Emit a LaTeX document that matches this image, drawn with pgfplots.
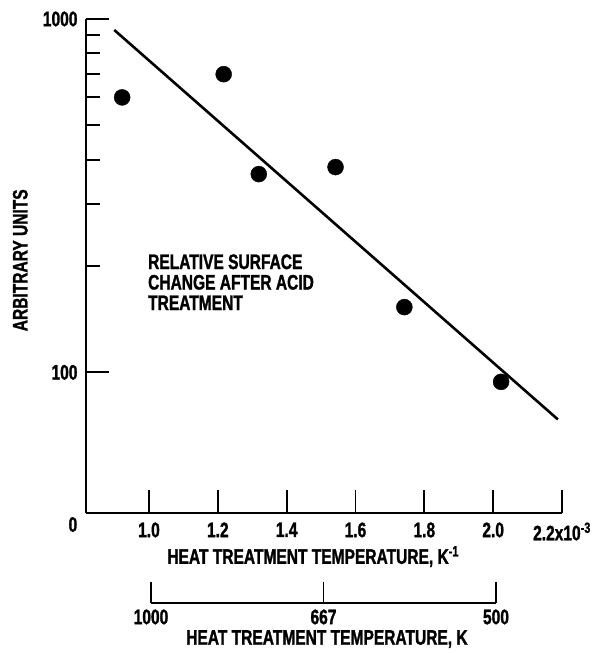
\documentclass[border=0pt]{standalone}
\usepackage{fontspec}
\setmainfont{Liberation Sans}[FakeStretch=0.74, BoldFeatures={FakeBold=1.3}]
\usepackage{pgfplots}
\pgfplotsset{compat=1.18}
\newcommand{\lab}{\fontsize{21}{20.5}\selectfont\bfseries}
\begin{document}
\begin{tikzpicture}[font=\lab]
\begin{axis}[
  scale only axis, width=476pt, height=494pt,
  at={(0,0)}, anchor=south west,
  ymode=log, xmin=0.817, xmax=2.2, ymin=40, ymax=1000,
  axis x line=bottom, axis y line=left,
  axis line style={-, line width=1.8pt},
  xtick={1.0,1.2,1.4,1.6,1.8,2.0,2.2},
  xticklabels={1.0,1.2,1.4,1.6,1.8,2.0,{2.2x10\textsuperscript{-3}}},
  ytick={100,1000}, yticklabels={100,1000},
  tick align=inside, major tick length=23pt, minor tick length=14pt,
  every tick/.style={line width=1.8pt, black},
  /pgf/number format/assume math mode=true,
  ticklabel style={font=\lab},
  xticklabel style={yshift=-6pt},
  yticklabel style={xshift=-5pt},
  clip=false,
]
\addplot[only marks, mark=*, mark size=8pt, black] coordinates {
  (0.922,600) (1.217,698) (1.319,364) (1.542,381) (1.742,153) (2.023,94)};
\addplot[black, line width=2.6pt, no marks] coordinates {(0.899,931) (2.188,73.6)};
\node[anchor=north west, align=left, inner sep=0pt, font=\lab] at (axis cs:0.997,216)
  {RELATIVE SURFACE\\CHANGE AFTER ACID\\TREATMENT};
\node[font=\lab] at (axis cs:0.779,37.1) {0};
\node[rotate=90, font=\lab] at (axis cs:0.626,207.6) {ARBITRARY UNITS};
\node[anchor=north, inner sep=0pt, font=\lab] at (axis cs:1.477,40) [yshift=-33pt]
  {HEAT TREATMENT TEMPERATURE, K\textsuperscript{-1}};
\end{axis}
\begin{axis}[
  scale only axis, width=345pt, height=20pt,
  at={(65pt,-90pt)}, anchor=south west,
  xmin=1, xmax=2, ymin=0, ymax=1,
  axis x line=bottom, axis y line=none,
  axis line style={-, line width=1.8pt},
  xtick={1,1.5,2}, xticklabels={1000,667,500},
  tick align=inside, major tick length=21pt,
  every tick/.style={line width=1.8pt, black},
  /pgf/number format/assume math mode=true,
  ticklabel style={font=\lab},
  xticklabel style={yshift=-3pt},
  clip=false,
]
\node[anchor=north, inner sep=0pt, font=\lab] at (axis cs:1.51,0) [yshift=-27pt]
  {HEAT TREATMENT TEMPERATURE, K};
\end{axis}
\pgfresetboundingbox
\path (-86pt,-140pt) rectangle (514pt,513pt);
\end{tikzpicture}
\end{document}
